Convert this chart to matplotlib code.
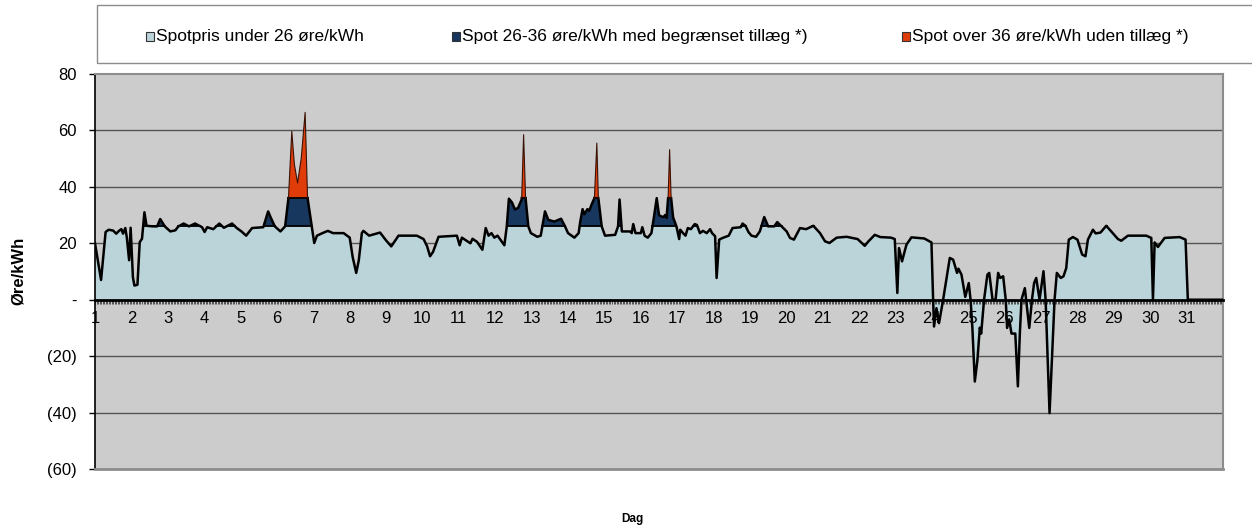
import numpy as np
import matplotlib
matplotlib.use("Agg")
import matplotlib.pyplot as plt
from matplotlib.patches import Rectangle
from matplotlib.ticker import FixedLocator, MultipleLocator

plt.rcParams['font.family'] = ['Liberation Sans', 'DejaVu Sans']

# ---- data (hour of month, spot price in øre/kWh) ----
hours = [0, 4, 7, 9, 12, 14, 16, 17.4, 18.5, 20, 21, 22.5, 23.5, 25, 26, 28, 29.5, 31, 32.6, 34,
         38, 41, 43, 46, 48, 49.7, 53, 55, 58.5, 62, 66, 70.6, 72.3, 74, 78, 82, 85, 90.4, 93.5, 96.6,
         99.7, 103.6, 111, 114.2, 116, 118.6, 122.3, 125.4, 127.6, 129.8, 131.5, 133.6, 136, 138.6, 140.2, 143,
         144.6, 146.4, 150, 153.6, 157, 164, 168, 170, 172.3, 174, 176, 177, 180.8, 188, 192, 195.4,
         200.2, 212.3, 216.7, 219, 221, 223, 226.6, 238.7, 240.5, 242, 247.6, 249, 252, 255.5, 257.7, 259.6,
         261.5, 263.4, 265.5, 268.2, 270, 271.6, 273, 275, 277, 279, 281.4, 282.7, 284, 285.8, 287.5, 291.7,
         294, 296.8, 299, 303, 307.4, 310, 312, 316.2, 319, 320, 321.6, 322.7, 324.8, 326, 327.6, 329.4,
         331, 332, 334.2, 336.4, 343.1, 345, 346, 347.5, 353, 354, 355, 356.5, 360, 361, 362.5, 364.6,
         367, 368.5, 370.5, 372, 373.6, 375, 376, 377, 378, 379, 380, 381.3, 383.5, 385.3, 386, 388,
         389.5, 391, 393, 395.6, 397, 399, 401, 403.5, 405.7, 407, 409, 410, 411.7, 414, 418, 420.5,
         426, 427.1, 429, 431, 433, 436, 438.5, 441.4, 444, 448, 450, 452.5, 456.2, 458.4, 461, 465,
         469, 473.8, 478.2, 481.5, 484.4, 489.2, 495.8, 503, 507.7, 510, 514.3, 518, 525, 527.5, 529.2, 530.3,
         532.3, 535.2, 538.5, 547, 551.7, 552.8, 553.4, 555, 556.7, 559.4, 563.8, 566, 568.6, 569.5, 571.5, 574,
         576.3, 577.5, 578.7, 580.3, 582, 583.6, 584.5, 586.4, 588.6, 589.8, 592, 594, 595.7, 597, 599, 600.7,
         601.6, 603, 604.5, 607, 608.7, 610, 611.1, 613.3, 616.2, 618, 619.4, 620.8, 623, 625.6, 627, 629.6,
         632.9, 634.4, 637, 638.8, 640.6, 642.3, 645, 648, 651.1, 653.3, 654.9, 658.2, 660, 663.2, 667, 670.3,
         674.7, 676.9, 681.3, 693.4, 696.7, 697.8, 698.9, 701.1, 705.5, 715.4, 719.3, 720.8, 744]
price = [20, 7, 24, 24.8, 24.5, 23.4, 24.5, 25, 23.4, 25.4, 22, 14, 25.5, 8, 5, 5.3, 20.4, 21.6, 31, 26.2,
         26, 26, 28.6, 26, 25, 24.2, 24.6, 26, 27, 26, 27, 25.7, 24, 25.7, 25, 27, 25.5, 27, 25.4, 24.2,
         22.7, 25.4, 25.7, 31.3, 29, 26, 24.2, 26, 36, 59.7, 48, 41.4, 50, 66.4, 36, 26,
         20.1, 22.7, 23.6, 24.4, 23.6, 23.6, 22, 15, 9.5, 14, 23.6, 24.4, 22.7, 23.8, 21, 18.9,
         22.7, 22.7, 21.5, 19, 15.4, 17, 22.3, 22.7, 19.3, 22, 20, 21.6, 20.5, 17.7, 25.4, 22.7,
         23.6, 22, 22.7, 20.7, 19.3, 26, 35.8, 34.5, 32, 32.5, 35.5, 58.5, 36, 26, 23.6, 22.3,
         22.7, 31.3, 28.3, 27.7, 28.7, 26, 23.6, 22, 23.6, 27.5, 32.1, 30.3, 32.1, 31.5, 33.8, 36,
         55.5, 36, 26, 22.7, 23, 26, 35.5, 24.2, 24.2, 23.6, 26.8, 23.6, 23.6, 25.7, 22.7, 22,
         23.6, 28.7, 36, 30, 29.5, 29.3, 30, 29, 36, 53.2, 36, 29.2, 26, 21.5, 24.8, 23.5,
         22.7, 25.4, 25, 26.8, 26.5, 23.6, 24.4, 23.6, 25, 23.6, 22.5, 7.7, 21.3, 21.9, 22.7, 25.4,
         25.7, 27, 26.2, 24, 22.7, 22.3, 24.2, 29.3, 26, 26, 27.5, 26.2, 24.2, 21.9, 21.3, 25.4,
         25, 26.2, 23.6, 20.7, 20.1, 22, 22.3, 21.5, 19.1, 20.6, 23, 22.2, 22, 21.5, 2.4, 18.3,
         13.6, 19.5, 22.1, 21.7, 20.3, 0, -9.5, -3, -8.3, 0, 14.8, 14.2, 9.5, 11, 8.9, 1,
         5.9, 0, -10, -29, -21.5, -9.9, -12, 0, 8.9, 9.5, 0, 0, 9.5, 7.7, 8.3, 0,
         -10, -7, -12, -12, -30.7, -12, 0, 4.1, -10, 0, 5.9, 7.7, 0, 10.1, 0, -40.2,
         0, 9.5, 7.7, 8.3, 11.2, 21.3, 22.2, 21.3, 16, 15.4, 21.3, 24.8, 23.5, 23.8, 26.2, 24.2,
         21.5, 20.9, 22.7, 22.7, 21.9, 0, 20.3, 18.7, 21.9, 22.2, 21.3, 0, 0]

day_labels = [str(d) for d in range(1, 32)]
y_values = [-60, -40, -20, 0, 20, 40, 60, 80]
y_labels = ['(60)', '(40)', '(20)', '-', '20', '40', '60', '80']
legend_labels = ['Spotpris under 26 øre/kWh',
                 'Spot 26-36 øre/kWh med begrænset tillæg *)',
                 'Spot over 36 øre/kWh uden tillæg *)']
low_level = 26
high_level = 36

# ---- style ----
c_low = '#BBD4DA'
c_mid = '#17375E'
c_high = '#E03C0A'
c_bg = '#CCCCCC'
c_grid = '#555555'
c_frame = '#8C8C8C'


def add_level_crossings(xv, yv, levels):
    """Add the points where each straight segment meets a band edge (for drawing bands)."""
    xs, ys = [xv[0]], [yv[0]]
    for i in range(1, len(xv)):
        x0, y0, x1, y1 = xv[i - 1], yv[i - 1], xv[i], yv[i]
        cross = []
        for lvl in levels:
            if (y0 - lvl) * (y1 - lvl) < 0:
                t = (lvl - y0) / (y1 - y0)
                cross.append((x0 + t * (x1 - x0), lvl))
        cross.sort(key=lambda c: c[0])
        for cx, cy in cross:
            xs.append(cx)
            ys.append(cy)
        xs.append(x1)
        ys.append(y1)
    return np.array(xs, dtype=float), np.array(ys, dtype=float)


W, H = 1252, 530
fig = plt.figure(figsize=(W / 100, H / 100), dpi=100)
ax = fig.add_axes([95 / W, 1 - 469 / H, (1223 - 95) / W, (469 - 74) / H])
ax.set_facecolor(c_bg)

xx, pp = add_level_crossings(hours, price, [0, low_level, high_level])
n_hours = 744
ax.set_xlim(0, n_hours)
ax.set_ylim(-60, 80)

# grid lines
for v in y_values:
    if v not in (0, -60, 80):
        ax.axhline(v, color=c_grid, lw=1.0, zorder=0.5)

# stacked bands
neg_part = np.minimum(pp, 0)
low_part = np.clip(pp, 0, low_level)
mid_part = np.clip(pp, low_level, high_level)
high_part = np.maximum(pp, high_level)
ax.fill_between(xx, neg_part, 0, where=pp <= 0, color=c_low, lw=0, zorder=1.2)
ax.fill_between(xx, 0, low_part, where=pp >= 0, color=c_low, lw=0, zorder=1.2)
ax.fill_between(xx, low_level, mid_part, where=pp >= low_level, color=c_mid, lw=0, zorder=1.2)
ax.fill_between(xx, high_level, high_part, where=pp >= high_level, color=c_high, lw=0, zorder=1.2)

# band edges
ax.plot(xx, np.where(pp >= low_level, low_level, np.nan), color='black', lw=1.3, zorder=2)
ax.plot(xx, np.where(pp >= high_level, high_level, np.nan), color='black', lw=1.3, zorder=2)

# price line: thick up to 36, thin above
ax.plot(xx, np.where(pp <= high_level, pp, np.nan), color='black', lw=1.8, zorder=3,
        solid_joinstyle='round')
ax.plot(xx, np.where(pp >= high_level, pp, np.nan), color='#3A1205', lw=0.8, zorder=3)

# axes / spines
ax.spines['bottom'].set_position(('data', 0))
ax.spines['bottom'].set_color('black')
ax.spines['bottom'].set_linewidth(2)
ax.spines['bottom'].set_zorder(4)
ax.spines['left'].set_color('black')
ax.spines['left'].set_linewidth(1.2)
for s in ('top', 'right'):
    ax.spines[s].set_color(c_frame)
    ax.spines[s].set_linewidth(1.5)
ax.axhline(-60, color=c_frame, lw=2, zorder=4, clip_on=False)

ax.xaxis.set_major_locator(FixedLocator(np.arange(len(day_labels)) * 24))
ax.set_xticklabels(day_labels)
ax.xaxis.set_minor_locator(MultipleLocator(1))
ax.tick_params(axis='x', which='both', direction='out', length=3, width=0.6,
               color='#404040', labelsize=12, pad=5)

ax.yaxis.set_major_locator(FixedLocator(y_values))
ax.set_yticklabels(y_labels)
ax.tick_params(axis='y', which='major', direction='out', length=4, width=1,
               color='black', labelsize=12, pad=9)

fig.text(18 / W, 1 - 271 / H, 'Øre/kWh', rotation=90, fontweight='bold', fontsize=12,
         ha='center', va='center')
fig.text(632 / W, 1 - 519 / H, 'Dag', fontweight='bold', fontsize=8.5,
         ha='center', va='center')

# legend box
fig.patches.append(Rectangle((97 / W, 1 - 63 / H), (1300 - 97) / W, 58 / H,
                             transform=fig.transFigure, fill=False,
                             edgecolor=c_frame, lw=1))
leg_x = [146, 452, 902]
for lx, col, lab in zip(leg_x, [c_low, c_mid, c_high], legend_labels):
    fig.patches.append(Rectangle((lx / W, 1 - 41 / H), 8 / W, 9 / H,
                                 transform=fig.transFigure, facecolor=col,
                                 edgecolor='#333333', lw=0.8))
    fig.text((lx + 10) / W, 1 - 36 / H, lab, fontsize=12.5, ha='left', va='center')

fig.savefig('out.png', dpi=100)
